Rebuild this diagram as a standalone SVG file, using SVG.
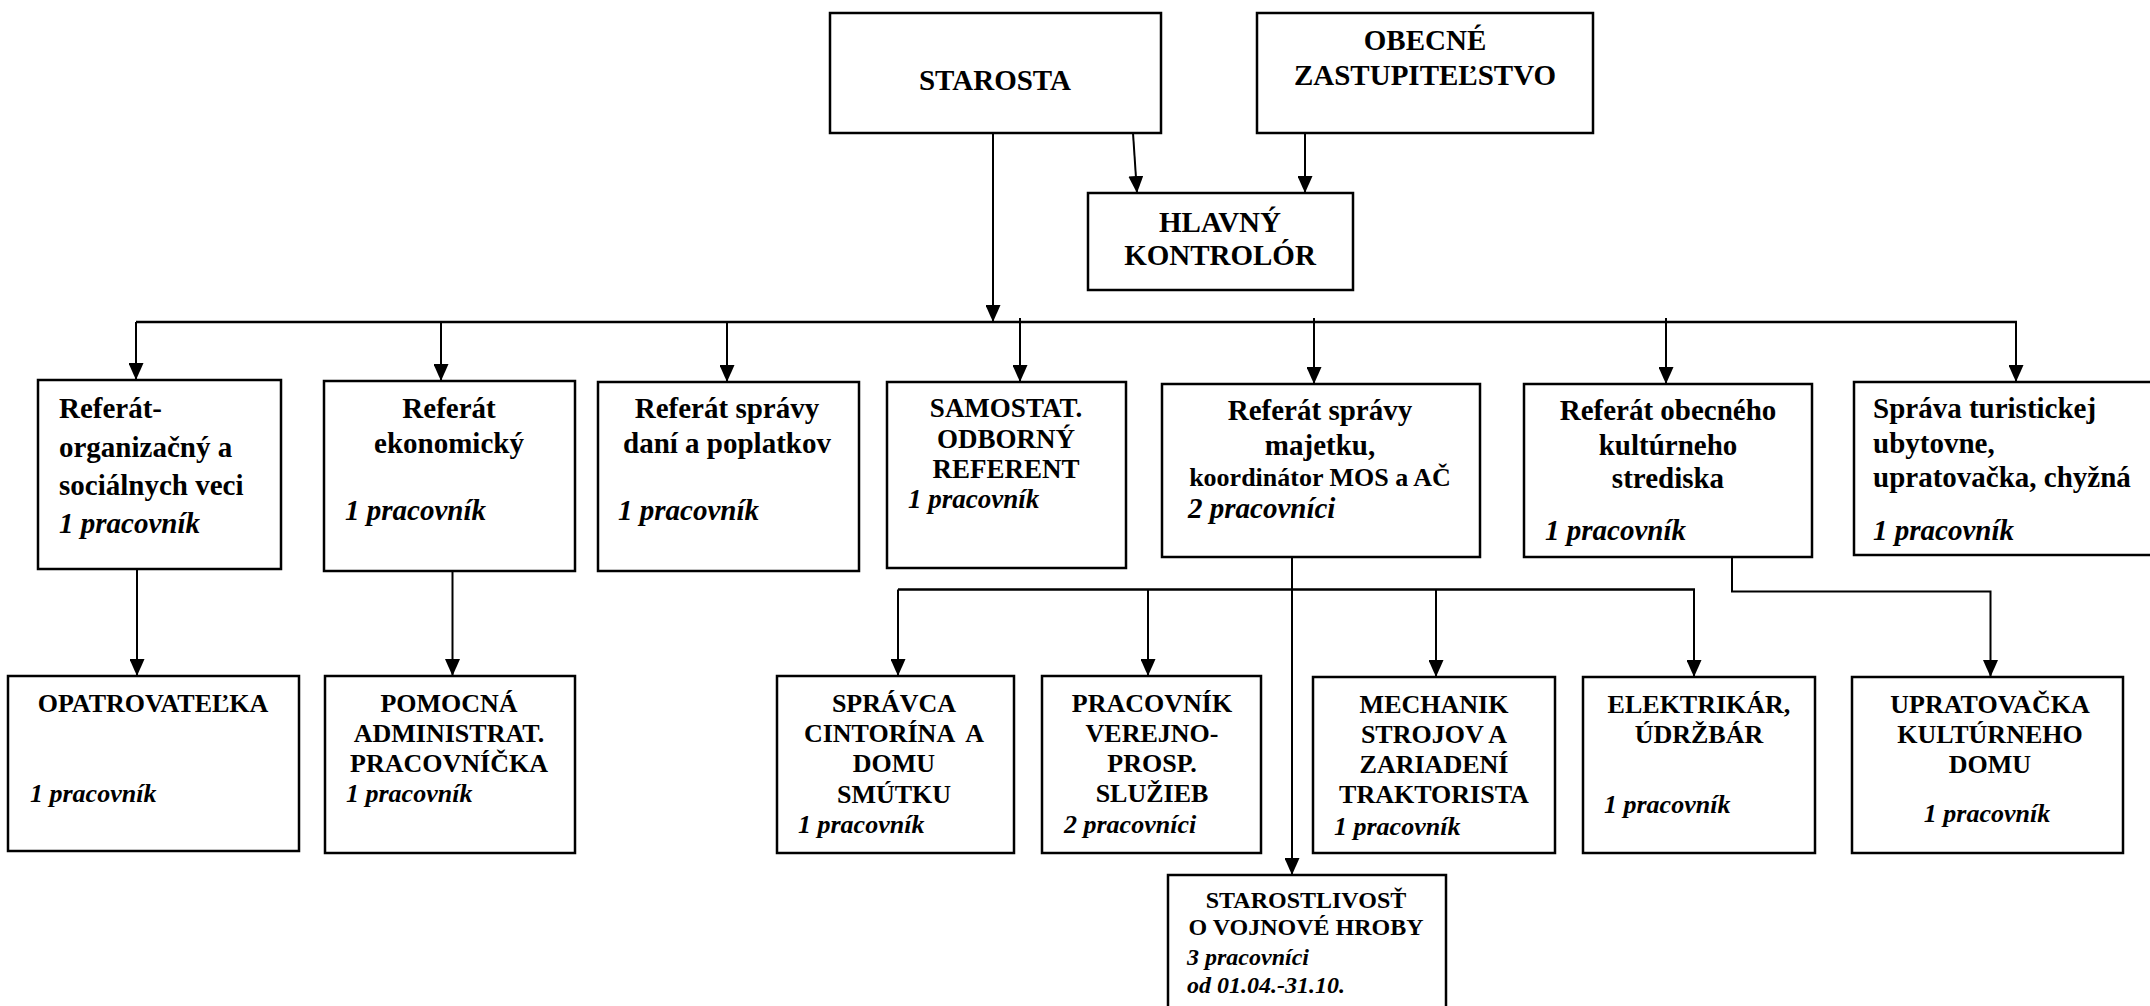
<svg xmlns="http://www.w3.org/2000/svg" width="2150" height="1006" viewBox="0 0 2150 1006">
<defs>
<marker id="ah" markerUnits="userSpaceOnUse" markerWidth="17" markerHeight="15" refX="17" refY="7.5" orient="auto">
<path d="M0,0 L17,7.5 L0,15 z" fill="#000"/>
</marker>
<style>
rect.box{fill:#fff;stroke:#000;stroke-width:2.5}
text{font-family:'Liberation Serif','Times New Roman','DejaVu Serif',serif;font-weight:bold;fill:#000}
.t29{font-size:29px}
.t27{font-size:27px}
.t26{font-size:26px}
.t24{font-size:24px}
.c{text-anchor:middle}
.i{font-style:italic}
#connectors line,#connectors polyline{stroke:#000;stroke-width:2;fill:none}
#connectors .a{marker-end:url(#ah)}
#connectors .thick{stroke-width:2.6}
</style>
</defs>
<rect width="2150" height="1006" fill="#fff"/>

<g id="connectors">
<line class="a" x1="993" y1="133" x2="993" y2="322"/>
<line class="a" x1="1133" y1="133" x2="1137" y2="193"/>
<line class="a" x1="1305" y1="133" x2="1305" y2="193"/>
<line class="thick" x1="136" y1="322" x2="2017" y2="322"/>
<line class="a" x1="136" y1="322" x2="136" y2="380"/>
<line class="a" x1="441" y1="322" x2="441" y2="381"/>
<line class="a" x1="727" y1="322" x2="727" y2="382"/>
<line class="a" x1="1020" y1="318" x2="1020" y2="382"/>
<line class="a" x1="1314" y1="318" x2="1314" y2="384"/>
<line class="a" x1="1666" y1="318" x2="1666" y2="384"/>
<line class="a" x1="2016" y1="322" x2="2016" y2="382"/>
<line class="a" x1="137" y1="569" x2="137" y2="676"/>
<line class="a" x1="452.5" y1="567" x2="452.5" y2="676"/>
<line class="a" x1="1292" y1="557" x2="1292" y2="875"/>
<line class="thick" x1="898" y1="589.5" x2="1695" y2="589.5"/>
<line class="a" x1="898" y1="589.5" x2="898" y2="676"/>
<line class="a" x1="1148" y1="589.5" x2="1148" y2="676"/>
<line class="a" x1="1436" y1="589.5" x2="1436" y2="677"/>
<line class="a" x1="1694" y1="589.5" x2="1694" y2="677"/>
<polyline class="a" points="1732,557 1732,591.5 1990.5,591.5 1990.5,677"/>
</g>

<g id="starosta">
<rect class="box" x="830" y="13" width="331" height="120"/>
<text class="t29 c" x="995" y="90">STAROSTA</text>
</g>
<g id="zastupitelstvo">
<rect class="box" x="1257" y="13" width="336" height="120"/>
<text class="t29 c" x="1425" y="50">OBECNÉ</text>
<text class="t29 c" x="1425" y="85">ZASTUPITEĽSTVO</text>
</g>
<g id="kontrolor">
<rect class="box" x="1088" y="193" width="265" height="97"/>
<text class="t29 c" x="1220" y="232">HLAVNÝ</text>
<text class="t29 c" x="1220" y="265">KONTROLÓR</text>
</g>

<g id="ref-organizacny">
<rect class="box" x="38" y="380" width="243" height="189"/>
<text class="t29" x="59" y="418">Referát-</text>
<text class="t29" x="59" y="457">organizačný a</text>
<text class="t29" x="59" y="495">sociálnych veci</text>
<text class="t29 i" x="59" y="533">1 pracovník</text>
</g>
<g id="ref-ekonomicky">
<rect class="box" x="324" y="381" width="251" height="190"/>
<text class="t29 c" x="449" y="418">Referát</text>
<text class="t29 c" x="449" y="453">ekonomický</text>
<text class="t29 i" x="345" y="520">1 pracovník</text>
</g>
<g id="ref-dani">
<rect class="box" x="598" y="382" width="261" height="189"/>
<text class="t29 c" x="727" y="418">Referát správy</text>
<text class="t29 c" x="727" y="453">daní a poplatkov</text>
<text class="t29 i" x="618" y="520">1 pracovník</text>
</g>
<g id="samostat-referent">
<rect class="box" x="887" y="382" width="239" height="186"/>
<text class="t27 c" x="1006" y="417">SAMOSTAT.</text>
<text class="t27 c" x="1006" y="448">ODBORNÝ</text>
<text class="t27 c" x="1006" y="478">REFERENT</text>
<text class="t27 i" x="908" y="508">1 pracovník</text>
</g>
<g id="ref-majetku">
<rect class="box" x="1162" y="384" width="318" height="173"/>
<text class="t29 c" x="1320" y="420">Referát správy</text>
<text class="t29 c" x="1320" y="455">majetku,</text>
<text class="t26 c" x="1320" y="486">koordinátor MOS a AČ</text>
<text class="t29 i" x="1188" y="518">2 pracovníci</text>
</g>
<g id="ref-kulturneho">
<rect class="box" x="1524" y="384" width="288" height="173"/>
<text class="t29 c" x="1668" y="420">Referát obecného</text>
<text class="t29 c" x="1668" y="455">kultúrneho</text>
<text class="t29 c" x="1668" y="488">strediska</text>
<text class="t29 i" x="1545" y="540">1 pracovník</text>
</g>
<g id="sprava-ubytovne">
<rect class="box" x="1854" y="382" width="310" height="173"/>
<text class="t29" x="1873" y="418">Správa turistickej</text>
<text class="t29" x="1873" y="453">ubytovne,</text>
<text class="t29" x="1873" y="487">upratovačka, chyžná</text>
<text class="t29 i" x="1873" y="540">1 pracovník</text>
</g>

<g id="opatrovatelka">
<rect class="box" x="8" y="676" width="291" height="175"/>
<text class="t26 c" x="153" y="712">OPATROVATEĽKA</text>
<text class="t26 i" x="30" y="802">1 pracovník</text>
</g>
<g id="pomocna">
<rect class="box" x="325" y="676" width="250" height="177"/>
<text class="t26 c" x="449" y="712">POMOCNÁ</text>
<text class="t26 c" x="449" y="742">ADMINISTRAT.</text>
<text class="t26 c" x="449" y="772">PRACOVNÍČKA</text>
<text class="t26 i" x="346" y="802">1 pracovník</text>
</g>
<g id="spravca">
<rect class="box" x="777" y="676" width="237" height="177"/>
<text class="t26 c" x="894" y="712">SPRÁVCA</text>
<text class="t26 c" x="894" y="742" xml:space="preserve">CINTORÍNA  A</text>
<text class="t26 c" x="894" y="772">DOMU</text>
<text class="t26 c" x="894" y="803">SMÚTKU</text>
<text class="t26 i" x="798" y="833">1 pracovník</text>
</g>
<g id="pracovnik-vps">
<rect class="box" x="1042" y="676" width="219" height="177"/>
<text class="t26 c" x="1152" y="712">PRACOVNÍK</text>
<text class="t26 c" x="1152" y="742">VEREJNO-</text>
<text class="t26 c" x="1152" y="772">PROSP.</text>
<text class="t26 c" x="1152" y="802">SLUŽIEB</text>
<text class="t26 i" x="1064" y="833">2 pracovníci</text>
</g>
<g id="mechanik">
<rect class="box" x="1313" y="677" width="242" height="176"/>
<text class="t26 c" x="1434" y="713">MECHANIK</text>
<text class="t26 c" x="1434" y="743">STROJOV A</text>
<text class="t26 c" x="1434" y="773">ZARIADENÍ</text>
<text class="t26 c" x="1434" y="803">TRAKTORISTA</text>
<text class="t26 i" x="1334" y="835">1 pracovník</text>
</g>
<g id="elektrikar">
<rect class="box" x="1583" y="677" width="232" height="176"/>
<text class="t26 c" x="1699" y="713">ELEKTRIKÁR,</text>
<text class="t26 c" x="1699" y="743">ÚDRŽBÁR</text>
<text class="t26 i" x="1604" y="813">1 pracovník</text>
</g>
<g id="upratovacka">
<rect class="box" x="1852" y="677" width="271" height="176"/>
<text class="t26 c" x="1990" y="713">UPRATOVAČKA</text>
<text class="t26 c" x="1990" y="743">KULTÚRNEHO</text>
<text class="t26 c" x="1990" y="773">DOMU</text>
<text class="t26 i c" x="1987" y="822">1 pracovník</text>
</g>
<g id="starostlivost">
<rect class="box" x="1168" y="875" width="278" height="140"/>
<text class="t24 c" x="1306" y="908">STAROSTLIVOSŤ</text>
<text class="t24 c" x="1306" y="935">O VOJNOVÉ HROBY</text>
<text class="t24 i" x="1187" y="965">3 pracovníci</text>
<text class="t24 i" x="1187" y="993">od 01.04.-31.10.</text>
</g>
</svg>
